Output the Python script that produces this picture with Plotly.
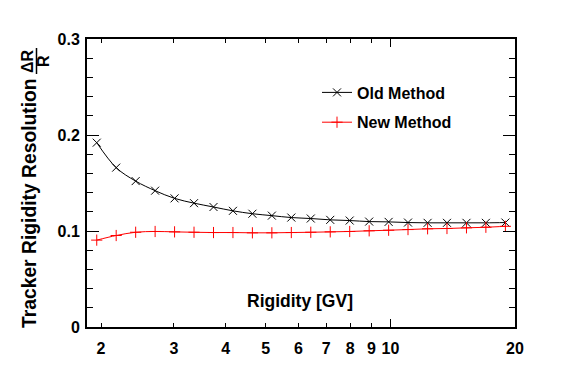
import math
import plotly.graph_objects as go

# ---- data ----
rigidity = [1.953, 2.176, 2.425, 2.702, 3.011, 3.355, 3.739, 4.166, 4.642, 5.173, 5.764,
            6.423, 7.157, 7.975, 8.887, 9.903, 11.03, 12.30, 13.70, 15.27, 17.01, 18.96]
old_method = [0.192, 0.166, 0.152, 0.142, 0.134, 0.129, 0.125, 0.121, 0.118, 0.116, 0.114,
              0.113, 0.1116, 0.1109, 0.1098, 0.1095, 0.1088, 0.1085, 0.1085, 0.1085, 0.1085, 0.1088]
new_method = [0.0905, 0.0953, 0.0987, 0.0995, 0.0991, 0.0987, 0.0984, 0.0984, 0.0981, 0.0981, 0.0984,
              0.0987, 0.0991, 0.0995, 0.1002, 0.1008, 0.1015, 0.1023, 0.1026, 0.1033, 0.1039, 0.1049]
x_tick_vals = [2, 3, 4, 5, 6, 7, 8, 9, 10, 20]
x_tick_text = ["2", "3", "4", "5", "6", "7", "8", "9", "10", "20"]
y_tick_vals = [0, 0.1, 0.2, 0.3]
y_tick_text = ["0", "0.1", "0.2", "0.3"]
x_range = [1.85, 20]
y_range = [0, 0.3]

BODY = 8  # default page margin of the html body
W, H = 556, 371
ML, MT, PW, PH = 79, 31, 428, 288
MR, MB = W - ML - PW, H - MT - PH


def px(p):
    return (p - BODY - ML) / PW


def py(p):
    return 1 - (p - BODY - MT) / PH


FONT = "Liberation Sans, Arial, Helvetica, sans-serif"

fig = go.Figure()
fig.add_trace(go.Scatter(
    x=rigidity, y=old_method, name="Old Method", mode="lines+markers",
    line=dict(color="black", width=1, shape="spline"),
    marker=dict(symbol="x-thin", size=8, line=dict(color="black", width=1), color="black"),
    legendgroup="a",
))
fig.add_trace(go.Scatter(
    x=rigidity, y=new_method, name="New Method", mode="lines+markers",
    line=dict(color="#ff0000", width=1, shape="spline"),
    marker=dict(symbol="cross-thin", size=8, line=dict(color="#ff0000", width=1), color="#ff0000"),
    legendgroup="b",
))

fig.update_layout(
    width=W, height=H,
    margin=dict(l=ML, r=MR, t=MT, b=MB),
    paper_bgcolor="white", plot_bgcolor="white",
    font=dict(family=FONT, color="black", size=16),
    showlegend=True,
    legend=dict(x=px(317), y=py(75.5), xanchor="left", yanchor="top",
                font=dict(family=FONT, size=16, weight="bold"),
                bgcolor="rgba(0,0,0,0)", borderwidth=0,
                traceorder="grouped", tracegroupgap=6, itemwidth=30),
    xaxis=dict(type="log", range=[math.log10(x_range[0]), math.log10(x_range[1])],
               tickmode="array", tickvals=x_tick_vals, ticktext=x_tick_text,
               ticks="inside", ticklen=4, tickwidth=1, tickcolor="black",
               showline=True, linewidth=2, linecolor="black", mirror="ticks",
               showgrid=False, zeroline=False, ticklabelstandoff=6,
               tickfont=dict(family=FONT, size=16, weight="bold")),
    xaxis2=dict(type="log", range=[math.log10(x_range[0]), math.log10(x_range[1])],
                overlaying="x", anchor="y", side="bottom",
                tickmode="array", tickvals=[10], ticks="inside", ticklen=8, tickwidth=1,
                tickcolor="black", showticklabels=False, showline=False, mirror="ticks",
                showgrid=False, zeroline=False),
    yaxis=dict(range=y_range, tickmode="array", tickvals=y_tick_vals, ticktext=y_tick_text,
               ticks="inside", ticklen=12, tickwidth=1, tickcolor="black",
               minor=dict(dtick=0.02, ticks="inside", ticklen=6, tickwidth=1, tickcolor="black"),
               showline=True, linewidth=2, linecolor="black", mirror="ticks",
               showgrid=False, zeroline=False, ticklabelstandoff=2,
               tickfont=dict(family=FONT, size=16, weight="bold")),
)

# invisible trace so the overlay axis (long tick at 10) is drawn
fig.add_trace(go.Scatter(x=[10], y=[0.1], xaxis="x2", mode="markers",
                         marker=dict(opacity=0), showlegend=False, hoverinfo="skip"))

# x-axis title inside the frame
fig.add_annotation(text="Rigidity [GV]", xref="paper", yref="paper",
                   x=px(300), y=py(301), xanchor="center", yanchor="middle",
                   showarrow=False, font=dict(family=FONT, size=17.5, weight="bold"))
# y-axis title
fig.add_annotation(text="Tracker Rigidity Resolution", xref="paper", yref="paper",
                   x=px(29), y=py(203), xanchor="center", yanchor="middle", textangle=-90,
                   showarrow=False, font=dict(family=FONT, size=19.3, weight="bold"))
fig.add_annotation(text="ΔR", xref="paper", yref="paper",
                   x=px(28), y=py(61), xanchor="center", yanchor="middle", textangle=-90,
                   showarrow=False, font=dict(family=FONT, size=16, weight="bold"))
fig.add_annotation(text="R", xref="paper", yref="paper",
                   x=px(44), y=py(61), xanchor="center", yanchor="middle", textangle=-90,
                   showarrow=False, font=dict(family=FONT, size=16, weight="bold"))
fig.add_shape(type="line", xref="paper", yref="paper",
              x0=px(36.5), x1=px(36.5), y0=py(48), y1=py(74),
              line=dict(color="black", width=1.5))

fig.write_html("out.html")
